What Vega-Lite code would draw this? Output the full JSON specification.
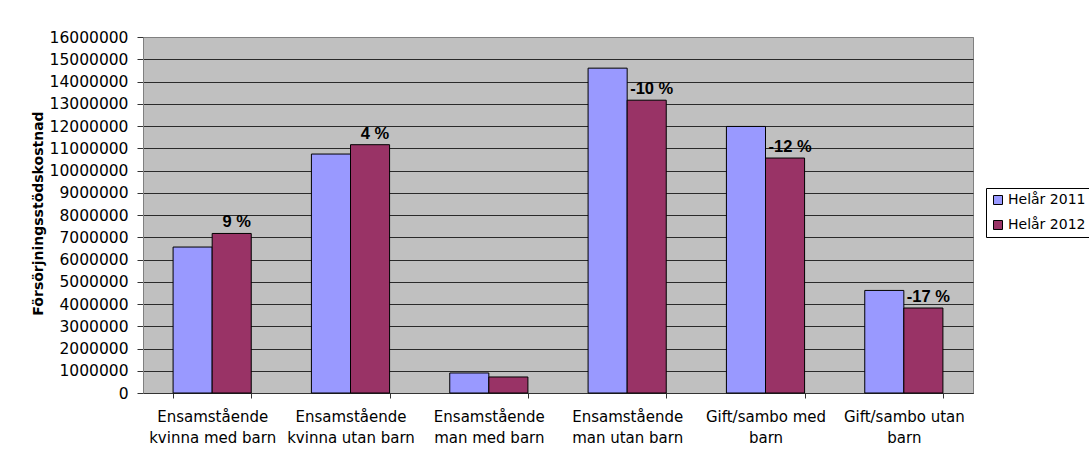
{
  "$schema": "https://vega.github.io/schema/vega-lite/v6.json",
  "autosize": {"type": "none"},
  "padding": {"left": 143, "top": 37, "right": 116, "bottom": 68},
  "width": 830,
  "height": 356,
  "background": "white",
  "config": {
    "view": {"fill": "#C0C0C0", "stroke": "#808080", "strokeWidth": 1},
    "font": "DejaVu Sans"
  },
  "data": {
    "values": [
      {"kategori": "Ensamstående\nkvinna med barn", "ar": "Helår 2011", "kostnad": 6560000, "andring": ""},
      {"kategori": "Ensamstående\nkvinna med barn", "ar": "Helår 2012", "kostnad": 7170000, "andring": "9 %"},
      {"kategori": "Ensamstående\nkvinna utan barn", "ar": "Helår 2011", "kostnad": 10740000, "andring": ""},
      {"kategori": "Ensamstående\nkvinna utan barn", "ar": "Helår 2012", "kostnad": 11160000, "andring": "4 %"},
      {"kategori": "Ensamstående\nman med barn", "ar": "Helår 2011", "kostnad": 900000, "andring": ""},
      {"kategori": "Ensamstående\nman med barn", "ar": "Helår 2012", "kostnad": 720000, "andring": ""},
      {"kategori": "Ensamstående\nman utan barn", "ar": "Helår 2011", "kostnad": 14600000, "andring": ""},
      {"kategori": "Ensamstående\nman utan barn", "ar": "Helår 2012", "kostnad": 13160000, "andring": "-10 %"},
      {"kategori": "Gift/sambo med\nbarn", "ar": "Helår 2011", "kostnad": 11980000, "andring": ""},
      {"kategori": "Gift/sambo med\nbarn", "ar": "Helår 2012", "kostnad": 10560000, "andring": "-12 %"},
      {"kategori": "Gift/sambo utan\nbarn", "ar": "Helår 2011", "kostnad": 4610000, "andring": ""},
      {"kategori": "Gift/sambo utan\nbarn", "ar": "Helår 2012", "kostnad": 3820000, "andring": "-17 %"}
    ]
  },
  "encoding": {
    "x": {
      "field": "kategori",
      "type": "nominal",
      "sort": null,
      "scale": {"paddingInner": 0.435, "paddingOuter": 0.2175},
      "axis": {
        "title": null,
        "labelAngle": 0,
        "labelExpr": "split(datum.label, '\\n')",
        "labelFont": "DejaVu Sans",
        "labelFontSize": 15,
        "labelColor": "#000000",
        "labelLineHeight": 21,
        "labelPadding": 11,
        "labelBaseline": "top",
        "tickBand": "extent",
        "tickSize": 5,
        "tickColor": "#333333",
        "domainColor": "#333333",
        "grid": false
      }
    },
    "xOffset": {"field": "ar", "type": "nominal", "scale": {"paddingInner": 0, "paddingOuter": 0}},
    "y": {
      "field": "kostnad",
      "type": "quantitative",
      "scale": {"domain": [0, 16000000], "nice": false},
      "axis": {
        "title": "Försörjningsstödskostnad",
        "titleFont": "DejaVu Sans",
        "titleFontSize": 14,
        "titleFontWeight": "bold",
        "titleColor": "#000000",
        "titleAngle": -90,
        "titleX": -105,
        "titleY": 176,
        "titleAlign": "center",
        "titleBaseline": "middle",
        "values": [0, 1000000, 2000000, 3000000, 4000000, 5000000, 6000000, 7000000, 8000000, 9000000, 10000000, 11000000, 12000000, 13000000, 14000000, 15000000, 16000000],
        "format": "d",
        "labelFont": "DejaVu Sans",
        "labelFontSize": 15.5,
        "labelColor": "#000000",
        "labelPadding": 9,
        "tickSize": 6,
        "tickColor": "#333333",
        "domainColor": "#808080",
        "grid": true,
        "gridColor": {"condition": {"test": "datum.value == 16000000", "value": "#808080"}, "value": "#2a2a2a"},
        "gridOpacity": 1,
        "gridWidth": 1
      }
    }
  },
  "layer": [
    {
      "mark": {"type": "bar", "stroke": "#000000", "strokeWidth": 1},
      "encoding": {
        "color": {
          "field": "ar",
          "type": "nominal",
          "scale": {"domain": ["Helår 2011", "Helår 2012"], "range": ["#9999FF", "#993366"]},
          "legend": {
            "title": null,
            "orient": "none",
            "legendX": 843,
            "legendY": 151,
            "fillColor": "white",
            "strokeColor": "#000000",
            "padding": 5,
            "symbolType": "square",
            "symbolSize": 81,
            "symbolStrokeColor": "#000000",
            "symbolStrokeWidth": 1,
            "labelFont": "DejaVu Sans",
            "labelFontSize": 14,
            "labelColor": "#000000",
            "rowPadding": 11,
            "labelOffset": 3
          }
        }
      }
    },
    {
      "mark": {"type": "text", "font": "Liberation Sans", "fontSize": 16.5, "fontWeight": "bold", "baseline": "bottom", "dy": -3, "dx": 5, "color": "#000000"},
      "encoding": {"text": {"field": "andring"}}
    }
  ]
}
